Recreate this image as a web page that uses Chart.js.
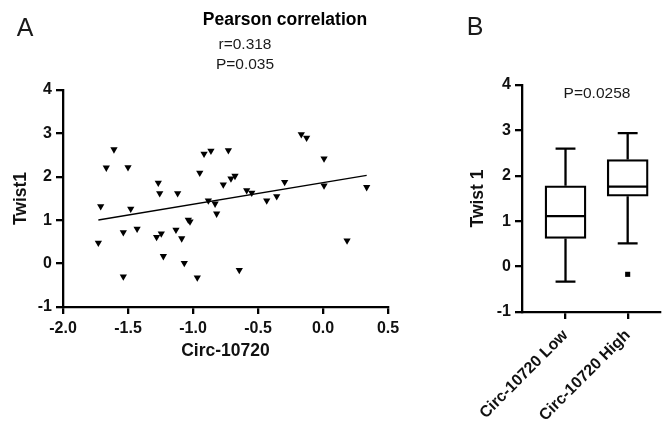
<!DOCTYPE html>
<html>
<head>
<meta charset="utf-8">
<script src="https://cdn.jsdelivr.net/npm/chart.js@4"></script>
<style>
  body { margin: 0; background: #fff; }
  #wrap { position: relative; width: 664px; height: 427px; overflow: hidden; font-family: "Liberation Sans", Arial, sans-serif; color: #1a1a1a; }
  canvas { position: absolute; top: 0; }
  .lbl { position: absolute; transform: translate(-50%, -50%); white-space: nowrap; line-height: 1; }
</style>
</head>
<body>
<div id="wrap">
  <canvas id="chartA" width="420" height="427" style="left:0"></canvas>
  <canvas id="chartB" width="224" height="427" style="left:440px"></canvas>
  <div class="lbl" style="left:25px;top:27px;font-size:25px;">A</div>
  <div class="lbl" style="left:475px;top:26px;font-size:25px;">B</div>
  <div class="lbl" style="left:285px;top:20px;font-size:17.5px;font-weight:bold;color:#000">Pearson correlation</div>
  <div class="lbl" style="left:245px;top:44px;font-size:15.5px;">r=0.318</div>
  <div class="lbl" style="left:245px;top:64px;font-size:15.5px;">P=0.035</div>
  <div class="lbl" style="left:597px;top:93px;font-size:15.5px;">P=0.0258</div>
</div>
<script>
// panel A: scatter values
var circ = [-1.728, -1.71, -1.667, -1.608, -1.536, -1.536, -1.50, -1.479, -1.43, -1.267,
            -1.256, -1.28, -1.244, -1.228, -1.118, -1.131, -1.087, -1.067, -1.036, -1.023,
            -0.967, -0.948, -0.915, -0.862, -0.882, -0.83, -0.818, -0.728, -0.767, -0.708,
            -0.677, -0.644, -0.587, -0.548, -0.433, -0.356, -0.295, -0.167, -0.126, 0.008,
            0.008, 0.185, 0.336];
var twist = [0.48, 1.32, 2.21, 2.63, 0.72, -0.30, 2.22, 1.26, 0.80, 1.86,
             1.62, 0.61, 0.69, 0.17, 1.62, 0.78, 0.58, 0.01, 1.01, 0.97,
             -0.32, 2.09, 2.53, 2.60, 1.45, 1.38, 1.15, 2.61, 1.82, 1.96,
             2.02, -0.15, 1.69, 1.63, 1.45, 1.55, 1.88, 2.98, 2.90, 2.42,
             1.80, 0.53, 1.76];
var xTicksA = [-2.0, -1.5, -1.0, -0.5, 0.0, 0.5];
var yTicks = [-1, 0, 1, 2, 3, 4];

// panel B: box summaries
var groups = ['Circ-10720 Low', 'Circ-10720 High'];
var boxMin = [-0.33, 0.51];
var boxQ1 = [0.62, 1.55];
var boxMed = [1.11, 1.76];
var boxQ3 = [1.78, 2.36];
var boxMax = [2.60, 2.94];
var outliers = [{g: 1, y: -0.17}];

var FONT = '"Liberation Sans", Arial, sans-serif';
var tickFont = { family: FONT, size: 16, weight: 'bold' };
var titleFont = { family: FONT, size: 17.5, weight: 'bold' };
var axisW = 2.3;

function axisStyle() {
  return {
    border: { display: true, color: '#000', width: axisW },
    grid: { drawOnChartArea: false, drawTicks: true, tickLength: 7, color: '#000', lineWidth: axisW, offset: false },
  };
}

// least squares fit line
var n = circ.length, sx = 0, sy = 0, sxx = 0, sxy = 0;
for (var i = 0; i < n; i++) { sx += circ[i]; sy += twist[i]; sxx += circ[i] * circ[i]; sxy += circ[i] * twist[i]; }
var slope = (n * sxy - sx * sy) / (n * sxx - sx * sx);
var icpt = (sy - slope * sx) / n;
var xLo = Math.min.apply(null, circ), xHi = Math.max.apply(null, circ);

var sA = axisStyle(), syA = axisStyle();
new Chart(document.getElementById('chartA'), {
  type: 'scatter',
  data: {
    datasets: [{
      data: circ.map(function (x, i) { return { x: x, y: twist[i] }; }),
      pointStyle: 'triangle', rotation: 180, radius: 4.2,
      backgroundColor: '#000', borderColor: '#000', borderWidth: 0
    }, {
      type: 'line',
      data: [{ x: xLo, y: icpt + slope * xLo }, { x: xHi, y: icpt + slope * xHi }],
      borderColor: '#000', borderWidth: 1.3, pointRadius: 0, fill: false
    }]
  },
  options: {
    responsive: false, animation: false,
    layout: { padding: { top: 90, right: 32, bottom: 60, left: 0 } },
    plugins: { legend: { display: false }, tooltip: { enabled: false } },
    scales: {
      x: Object.assign(sA, {
        type: 'linear', min: -2, max: 0.5,
        afterBuildTicks: function (s) { s.ticks = xTicksA.map(function (v) { return { value: v }; }); },
        afterFit: function (s) { s.height = 60; },
        ticks: { color: '#111', font: tickFont, padding: 5, maxRotation: 0,
                 callback: function (v) { return Number(v).toFixed(1); } },
        title: { display: true, text: 'Circ-10720', color: '#111', font: titleFont, padding: { top: 0, bottom: 5.5 } }
      }),
      y: Object.assign(syA, {
        min: -1, max: 4,
        afterBuildTicks: function (s) { s.ticks = yTicks.map(function (v) { return { value: v }; }); },
        afterFit: function (s) { s.width = 63; },
        ticks: { color: '#111', font: tickFont, padding: 4 },
        title: { display: true, text: 'Twist1', color: '#111', font: titleFont, padding: { top: 10.5, bottom: 0 } }
      })
    }
  }
});

// whisker, cap and median segments built from the box summaries
var capHalf = 0.16, boxHalf = 0.32;
var whisk = [];
groups.forEach(function (g, i) {
  var c = i + 1;
  whisk.push({ x: c, y: boxMin[i] }, { x: c, y: boxQ1[i] }, { x: c, y: null });
  whisk.push({ x: c, y: boxQ3[i] }, { x: c, y: boxMax[i] }, { x: c, y: null });
  whisk.push({ x: c - capHalf, y: boxMax[i] }, { x: c + capHalf, y: boxMax[i] }, { x: c, y: null });
  whisk.push({ x: c - capHalf, y: boxMin[i] }, { x: c + capHalf, y: boxMin[i] }, { x: c, y: null });
  whisk.push({ x: c - boxHalf, y: boxMed[i] }, { x: c + boxHalf, y: boxMed[i] }, { x: c, y: null });
});

var sB = axisStyle(), syB = axisStyle();
new Chart(document.getElementById('chartB'), {
  type: 'bar',
  data: {
    datasets: [
      { type: 'line', data: whisk, borderColor: '#000', borderWidth: 2.3, pointRadius: 0, spanGaps: false, fill: false },
      { data: groups.map(function (g, i) { return { x: i + 1, y: [boxQ1[i], boxQ3[i]] }; }),
        backgroundColor: '#fff', borderColor: '#000', borderWidth: 2.3, borderSkipped: false, barThickness: 41 },
      { type: 'scatter', data: outliers.map(function (o) { return { x: o.g + 1, y: o.y }; }),
        pointStyle: 'rect', radius: 3.6, backgroundColor: '#000', borderColor: '#000', borderWidth: 0 }
    ]
  },
  options: {
    responsive: false, animation: false,
    layout: { padding: { top: 85, right: 0, bottom: 0, left: 0 } },
    plugins: { legend: { display: false }, tooltip: { enabled: false } },
    scales: {
      x: Object.assign(sB, {
        type: 'linear', min: 0.3, max: 2.52, offset: false,
        afterBuildTicks: function (s) { s.ticks = groups.map(function (g, i) { return { value: i + 1 }; }); },
        afterFit: function (s) { s.height = 115; },
        ticks: { color: '#111', font: tickFont, padding: 7, minRotation: 45, maxRotation: 45, autoSkip: false,
                 callback: function (v, idx) { return groups[idx]; } }
      }),
      y: Object.assign(syB, {
        min: -1, max: 4,
        afterBuildTicks: function (s) { s.ticks = yTicks.map(function (v) { return { value: v }; }); },
        afterFit: function (s) { s.width = 82; },
        ticks: { color: '#111', font: tickFont, padding: 4 },
        title: { display: true, text: 'Twist 1', color: '#111', font: titleFont, padding: { top: 27.5, bottom: 0 } }
      })
    }
  }
});
</script>
</body>
</html>
